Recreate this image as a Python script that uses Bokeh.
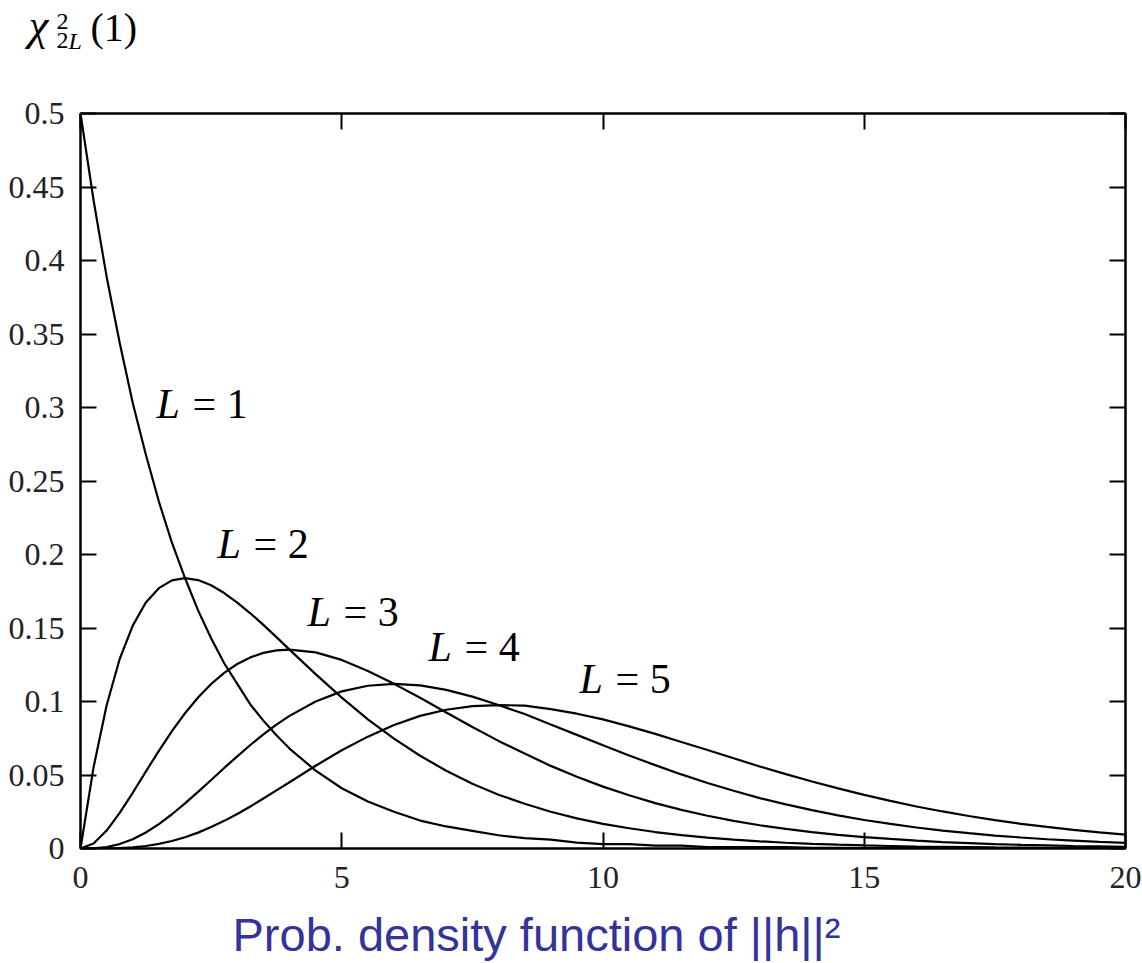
from bokeh.plotting import figure
from bokeh.models import Range1d, FixedTicker, LinearAxis, Label
from bokeh.layouts import column
from bokeh.embed import file_html
from bokeh.resources import INLINE

# ---------------- data ----------------
x_vals = [0, 0.25, 0.5, 0.75, 1, 1.25, 1.5, 1.75, 2, 2.25, 2.5, 2.75, 3, 3.25, 3.5, 3.75,
          4, 4.5, 5, 5.5, 6, 6.5, 7, 7.5, 8, 8.5, 9, 9.5,
          10, 10.5, 11, 11.5, 12, 12.5, 13, 13.5, 14, 14.5, 15, 15.5, 16, 16.5, 17, 17.5,
          18, 18.5, 19, 19.5, 20]

pdf_L1 = [0.500, 0.441, 0.389, 0.344, 0.303, 0.268, 0.236, 0.208, 0.184, 0.162, 0.143,
          0.126, 0.112, 0.098, 0.087, 0.077, 0.068, 0.053, 0.041,
          0.032, 0.025, 0.019, 0.015, 0.012, 0.009, 0.007, 0.006, 0.004, 0.003, 0.003,
          0.002, 0.002, 0.001, 0.001, 0.001, 0.001, 0.0005, 0.0004, 0.0003, 0.0002,
          0.0002, 0.0001, 0.0001, 0.0001, 0.0001, 0.0, 0.0, 0.0, 0.0]
pdf_L2 = [0.0, 0.0552, 0.0974, 0.1289, 0.1516, 0.1673, 0.1771, 0.1824, 0.1839, 0.1826,
          0.1791, 0.1738, 0.1673, 0.1600, 0.1521, 0.1438, 0.1353, 0.1186,
          0.1026, 0.0879, 0.0747, 0.0631, 0.0529, 0.0441, 0.0366, 0.0304, 0.0250, 0.0205,
          0.0168, 0.0138, 0.0112, 0.0091, 0.0074, 0.0060, 0.0049, 0.0039, 0.0032, 0.0026,
          0.0021, 0.0017, 0.0013, 0.0011, 0.0009, 0.0007, 0.0006, 0.0004, 0.0004, 0.0003,
          0.0002]
pdf_L3 = [0.0, 0.0034, 0.0122, 0.0242, 0.0379, 0.0523, 0.0664, 0.0798, 0.0920, 0.1027,
          0.1119, 0.1195, 0.1255, 0.1300, 0.1331, 0.1348, 0.1353, 0.1334,
          0.1283, 0.1208, 0.1120, 0.1025, 0.0925, 0.0826, 0.0732, 0.0646, 0.0562, 0.0488,
          0.0421, 0.0362, 0.0309, 0.0263, 0.0223, 0.0188, 0.0158, 0.0133, 0.0112, 0.0093,
          0.0078, 0.0065, 0.0054, 0.0044, 0.0037, 0.0030, 0.0025, 0.0021, 0.0017, 0.0014,
          0.0011]
pdf_L4 = [0.0, 0.0001, 0.0010, 0.0030, 0.0063, 0.0109, 0.0166, 0.0233, 0.0307, 0.0385,
          0.0466, 0.0548, 0.0627, 0.0704, 0.0776, 0.0843, 0.0902, 0.1000,
          0.1069, 0.1107, 0.1120, 0.1110, 0.1079, 0.1033, 0.0976, 0.0915, 0.0843, 0.0773,
          0.0702, 0.0633, 0.0567, 0.0504, 0.0446, 0.0393, 0.0343, 0.0300, 0.0261, 0.0225,
          0.0194, 0.0167, 0.0143, 0.0122, 0.0104, 0.0088, 0.0075, 0.0063, 0.0054, 0.0045,
          0.0038]
pdf_L5 = [0.0, 0.0, 0.0001, 0.0003, 0.0008, 0.0017, 0.0031, 0.0051, 0.0077, 0.0108,
          0.0146, 0.0188, 0.0235, 0.0286, 0.0340, 0.0395, 0.0451, 0.0563,
          0.0668, 0.0761, 0.0840, 0.0902, 0.0944, 0.0968, 0.0976, 0.0972, 0.0948, 0.0917,
          0.0878, 0.0831, 0.0780, 0.0724, 0.0670, 0.0614, 0.0558, 0.0506, 0.0456, 0.0409,
          0.0365, 0.0324, 0.0286, 0.0252, 0.0221, 0.0193, 0.0168, 0.0147, 0.0127, 0.0110,
          0.0095]

curve_values = [1, 2, 3, 4, 5]
x_ticks = [0, 5, 10, 15, 20]
x_tick_labels = ["0", "5", "10", "15", "20"]
y_ticks = [0, 0.05, 0.1, 0.15, 0.2, 0.25, 0.3, 0.35, 0.4, 0.45, 0.5]
y_tick_labels = ["0", "0.05", "0.1", "0.15", "0.2", "0.25", "0.3", "0.35", "0.4", "0.45", "0.5"]
x_title = "Prob. density function of ||h||\u00b2"

# ---------------- layout constants ----------------
W, H = 1142, 963
FL, FR, FT, FB = 80, 1125, 113, 848
X0, X1, Y0, Y1 = 0, 20, 0, 0.5
MAIN_TOP, MAIN_BOTTOM = 30, 60
H_TOP = FT - MAIN_TOP
H_BOTTOM = H - FB - MAIN_BOTTOM
SERIF = "Liberation Serif"
BASE_SHIFT = 0.4  # correction (in em) so that labels sit on the intended baseline


def dx(px):
    return X0 + (px - FL) / (FR - FL) * (X1 - X0)


def dy(py):
    return Y0 + (FB - py) / (FB - FT) * (Y1 - Y0)


def text_strip(height):
    f = figure(width=W, height=height, x_range=Range1d(0, W), y_range=Range1d(height, 0),
               output_backend="svg", toolbar_location=None, min_border=0,
               x_axis_location=None, y_axis_location=None, title_location=None,
               frame_align=False)
    f.grid.visible = False
    f.outline_line_color = None
    f.background_fill_color = "white"
    f.border_fill_color = "white"
    return f


# ---------------- main plot ----------------
p = figure(frame_width=FR - FL, frame_height=FB - FT,
           x_range=Range1d(X0, X1), y_range=Range1d(Y0, Y1),
           output_backend="svg", toolbar_location=None, title_location=None,
           frame_align=False,
           min_border_left=FL, min_border_right=W - FR,
           min_border_top=MAIN_TOP, min_border_bottom=MAIN_BOTTOM)
p.grid.visible = False
p.background_fill_color = "white"
p.border_fill_color = "white"
p.outline_line_color = "black"
p.outline_line_width = 2
p.outline_line_alpha = 1.0


def style_axis(ax, ticks, labels, show_labels):
    ax.ticker = FixedTicker(ticks=ticks)
    ax.major_tick_in = 16
    ax.major_tick_out = 0
    ax.minor_tick_in = 0
    ax.minor_tick_out = 0
    ax.major_tick_line_width = 2
    ax.major_tick_line_color = "black"
    ax.axis_line_width = 2
    ax.axis_line_color = "black"
    ax.major_label_text_font = SERIF
    if show_labels:
        ax.major_label_overrides = {t: l for t, l in zip(ticks, labels)}
        ax.major_label_text_font_size = "32px"
        ax.major_label_text_color = "#222222"
    else:
        ax.major_label_overrides = {t: "" for t in ticks}
        ax.major_label_standoff = 0


style_axis(p.xaxis[0], x_ticks, x_tick_labels, True)
p.xaxis[0].major_label_standoff = 18
style_axis(p.yaxis[0], y_ticks, y_tick_labels, True)
p.yaxis[0].major_label_standoff = 16

top_axis = LinearAxis()
style_axis(top_axis, x_ticks, x_tick_labels, False)
p.add_layout(top_axis, "above")
right_axis = LinearAxis()
style_axis(right_axis, y_ticks, y_tick_labels, False)
p.add_layout(right_axis, "right")

for ys in [pdf_L1, pdf_L2, pdf_L3, pdf_L4, pdf_L5]:
    p.line(x_vals, ys, line_color="black", line_width=2.2)

# curve labels: (left px, baseline px) in page pixels
LABEL_FS = 42
label_pos = [(156, 420), (217, 560), (307, 628), (428, 663), (579, 695)]
for n, (lx, ly) in zip(curve_values, label_pos):
    by = ly - BASE_SHIFT * LABEL_FS
    p.add_layout(Label(x=dx(lx), y=dy(by), text="L", text_font=SERIF,
                       text_font_style="italic", text_font_size="%dpx" % LABEL_FS,
                       text_color="black", text_baseline="alphabetic", text_align="left"))
    p.add_layout(Label(x=dx(lx), y=dy(by), x_offset=36, text="= %d" % n, text_font=SERIF,
                       text_font_size="%dpx" % LABEL_FS, text_color="black",
                       text_baseline="alphabetic", text_align="left"))

# ---------------- top strip: chi^2_{2L}(1) ----------------
top = text_strip(H_TOP)
title_parts = [
    ("\u03c7", 28, 42, 45, "italic"),
    ("2", 56, 31, 24, "normal"),
    ("2", 56, 50, 24, "normal"),
    ("L", 68, 50, 24, "italic"),
    ("(1)", 90, 43, 40, "normal"),
]
for txt, lx, ly, fs, st in title_parts:
    top.add_layout(Label(x=lx, y=ly - BASE_SHIFT * fs, text=txt, text_font=SERIF,
                         text_font_style=st, text_font_size="%dpx" % fs, text_color="black",
                         text_baseline="alphabetic", text_align="left"))

# ---------------- bottom strip: x title ----------------
XT_FS = 47
bottom = text_strip(H_BOTTOM)
bottom.add_layout(Label(x=232, y=953 - (H - H_BOTTOM) - BASE_SHIFT * XT_FS, text=x_title,
                        text_font="Liberation Sans", text_font_size="%dpx" % XT_FS,
                        text_color="#333399", text_baseline="alphabetic", text_align="left"))

layout = column(top, p, bottom, spacing=0)
open("out.html", "w").write(file_html(layout, INLINE))
